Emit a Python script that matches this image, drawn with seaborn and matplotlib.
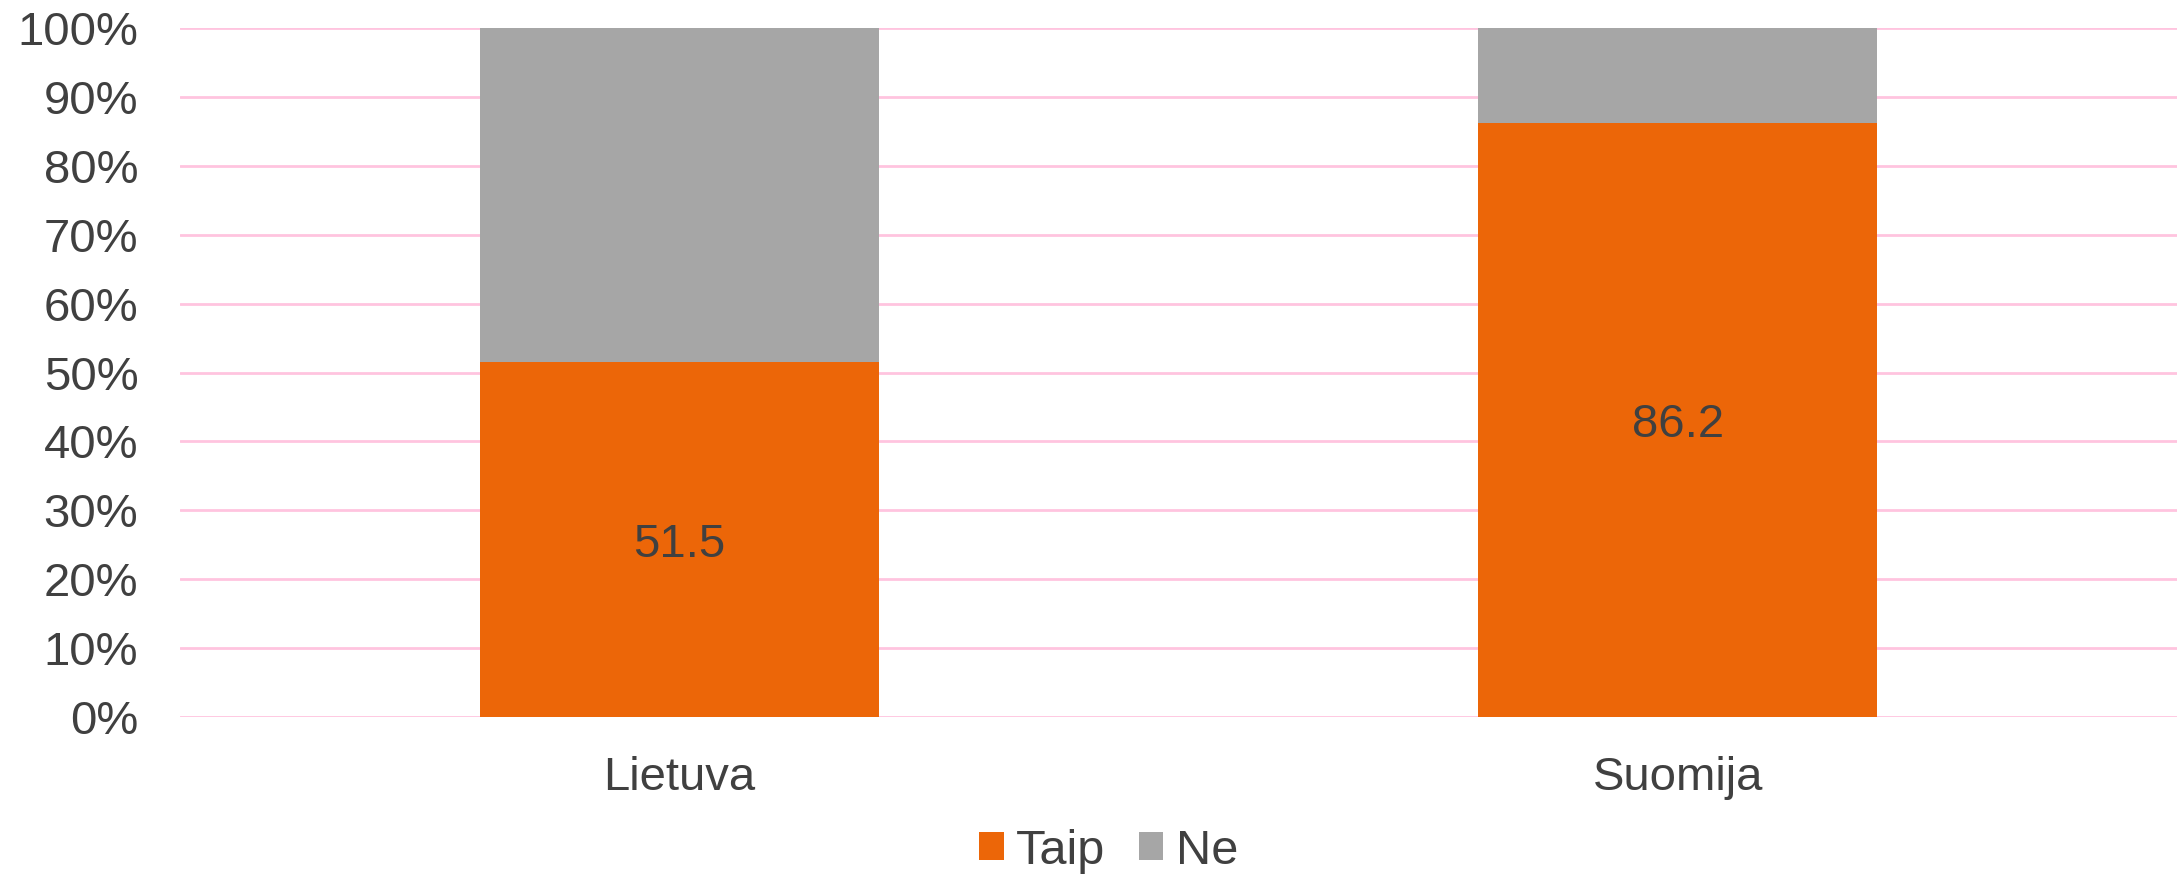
import matplotlib
matplotlib.use("Agg")
import matplotlib.pyplot as plt
import seaborn as sns
import pandas as pd
from matplotlib.patches import Patch
from matplotlib.ticker import PercentFormatter

# data
countries = ["Lietuva", "Suomija"]
taip = [51.5, 86.2]
ne = [48.5, 13.8]
series_names = ["Taip", "Ne"]
colors = ["#EC6608", "#A6A6A6"]

df = pd.DataFrame({"country": countries, "Taip": taip, "Ne": ne})
df["total"] = df["Taip"] + df["Ne"]

sns.set_style("white")
plt.rcParams["font.family"] = ["Liberation Sans", "DejaVu Sans"]
text_col = "#404040"

fig = plt.figure(figsize=(21.78, 8.76), dpi=100)
ax = fig.add_axes([180 / 2178, 1 - 717 / 876, 1997 / 2178, 689 / 876])

# stacked: full bar in grey, Taip on top of it in orange
sns.barplot(data=df, x="country", y="total", color=colors[1], width=0.4,
            saturation=1, linewidth=0, ax=ax, zorder=3)
sns.barplot(data=df, x="country", y="Taip", color=colors[0], width=0.4,
            saturation=1, linewidth=0, ax=ax, zorder=3)

for i, v in enumerate(taip):
    ax.text(i, v / 2, f"{v:.1f}", ha="center", va="center_baseline",
            fontsize=34, color=text_col, zorder=4)

ax.set_xlim(-0.5, 1.5)
ax.set_ylim(0, 100)
ax.set_yticks(range(0, 101, 10))
ax.yaxis.set_major_formatter(PercentFormatter(decimals=0))
ax.grid(axis="y", color="#FFC4DF", linewidth=2.0, zorder=0)
ax.set_axisbelow(True)
for s in ax.spines.values():
    s.set_visible(False)
ax.set_xlabel("")
ax.set_ylabel("")
ax.tick_params(axis="y", length=0, pad=30, labelsize=34, labelcolor=text_col)
ax.tick_params(axis="x", length=0, pad=28, labelsize=34, labelcolor=text_col)

handles = [Patch(facecolor=c, edgecolor="none") for c in colors]
fig.legend(handles, series_names, loc="center", bbox_to_anchor=(0.509, 1 - 851 / 876),
           ncol=2, frameon=False, fontsize=35, labelcolor=text_col,
           handlelength=0.5, handleheight=0.5, handletextpad=0.25,
           columnspacing=0.7)

fig.savefig("out.png", dpi=100)
